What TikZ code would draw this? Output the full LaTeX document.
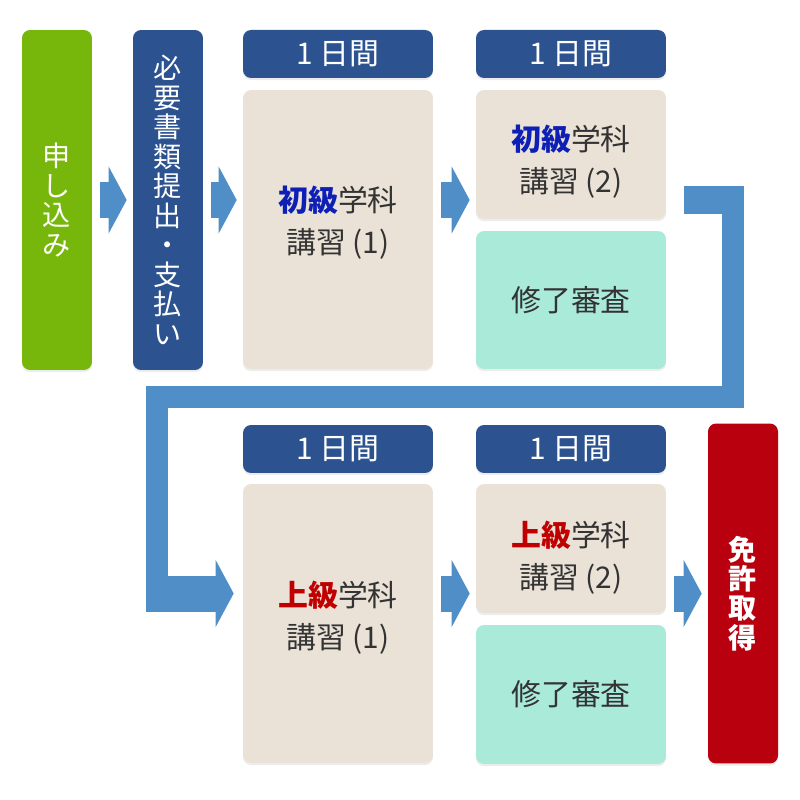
\documentclass[tikz,border=0pt]{standalone}
\usepackage{fontspec}
\setmainfont{Noto Sans CJK JP}
\usetikzlibrary{arrows.meta,calc,shadows}
\definecolor{leaf}{HTML}{77B60B}
\definecolor{navy}{HTML}{2C5290}
\definecolor{sand}{HTML}{EAE2D7}
\definecolor{mint}{HTML}{AAEAD9}
\definecolor{flow}{HTML}{4F8EC6}
\definecolor{wine}{HTML}{B8000F}
\definecolor{ink}{HTML}{333333}
\definecolor{basic}{HTML}{0D1FB5}
\definecolor{adv}{HTML}{C00000}
\begin{document}
\begin{tikzpicture}[x=0.02cm,y=-0.02cm,
  every node/.style={align=center,inner sep=0pt,font=\fontsize{17}{24}\selectfont},
  every label/.style={text=ink},
  box/.style={rounded corners=0.16cm,minimum width=3.8cm,drop shadow={shadow xshift=0pt,shadow yshift=-1.2pt,opacity=0.15}},
  tall/.style={box,minimum width=1.4cm,minimum height=6.8cm,text=white,font=\fontsize{16}{16.8}\selectfont},
  day/.style={box,fill=navy,minimum height=0.96cm,text=white},
  lesson/.style={box,fill=sand,text=ink},
  check/.style={box,fill=mint,text=ink},
  blockarrow/.style={flow,line width=0.72cm,-{Triangle[length=0.36cm,width=1.34cm,line width=0pt]},shorten <=0.16cm,shorten >=0.12cm},
  pipe/.style={flow,line width=0.44cm,line join=miter}]
\useasboundingbox (0,0) rectangle (800,800);
% first row
\node[tall,fill=leaf] (apply) at (57,200) {申\\し\\込\\み};
\node[tall,fill=navy] (docs) at (168,200) {必\\要\\書\\類\\提\\出\\・\\支\\払\\い};
\node[day] (d1) at (338,54) {1 日間};
\node[day] (d2) at (571,54) {1 日間};
\node[lesson,minimum height=5.58cm,label={[yshift=4pt]center:{{\bfseries\color{basic}初級}学科\\講習 (1)}}] (b1) at (338,229.5) {};
\node[lesson,minimum height=2.58cm,label={[yshift=-4.3pt]center:{{\bfseries\color{basic}初級}学科\\講習 (2)}}] (b2) at (571,154.5) {};
\node[check,minimum height=2.76cm] (c1) at (571,300) {修了審査};
% second row
\node[day] (d3) at (338,449) {1 日間};
\node[day] (d4) at (571,449) {1 日間};
\node[lesson,minimum height=5.58cm,label={[yshift=3.4pt]center:{{\bfseries\color{adv}上級}学科\\講習 (1)}}] (u1) at (338,623.5) {};
\node[lesson,minimum height=2.58cm,label={[yshift=-5pt]center:{{\bfseries\color{adv}上級}学科\\講習 (2)}}] (u2) at (571,548.5) {};
\node[check,minimum height=2.78cm] (c2) at (571,694.5) {修了審査};
\node[tall,fill=wine,font=\bfseries\fontsize{16}{16.7}\selectfont] (lic) at (743,593.5) {免\\許\\取\\得};
% arrows
\coordinate (turnR) at (732.5,200);
\coordinate (turnL) at (156.5,396.5);
\draw[blockarrow] (apply) -- (docs);
\draw[blockarrow] (docs) -- (b1.west |- docs);
\draw[blockarrow] (b1.east |- docs) -- (b2.west |- docs);
\draw[pipe] ($(b2.east |- docs)+(18,0)$) -- (turnR) |- (turnL) -- (turnL |- lic);
\draw[pipe,line width=0.56cm] ($(b2.east |- docs)+(18,0)$) -- ($(turnR)+(11,0)$);
\draw[blockarrow,shorten <=0pt,shorten >=0.18cm] ($(turnL |- lic)+(-10.5,0)$) -- (u1.west |- lic);
\draw[blockarrow] (u1.east |- lic) -- (u2.west |- lic);
\draw[blockarrow] (u2.east |- lic) -- (lic);
\end{tikzpicture}
\end{document}
